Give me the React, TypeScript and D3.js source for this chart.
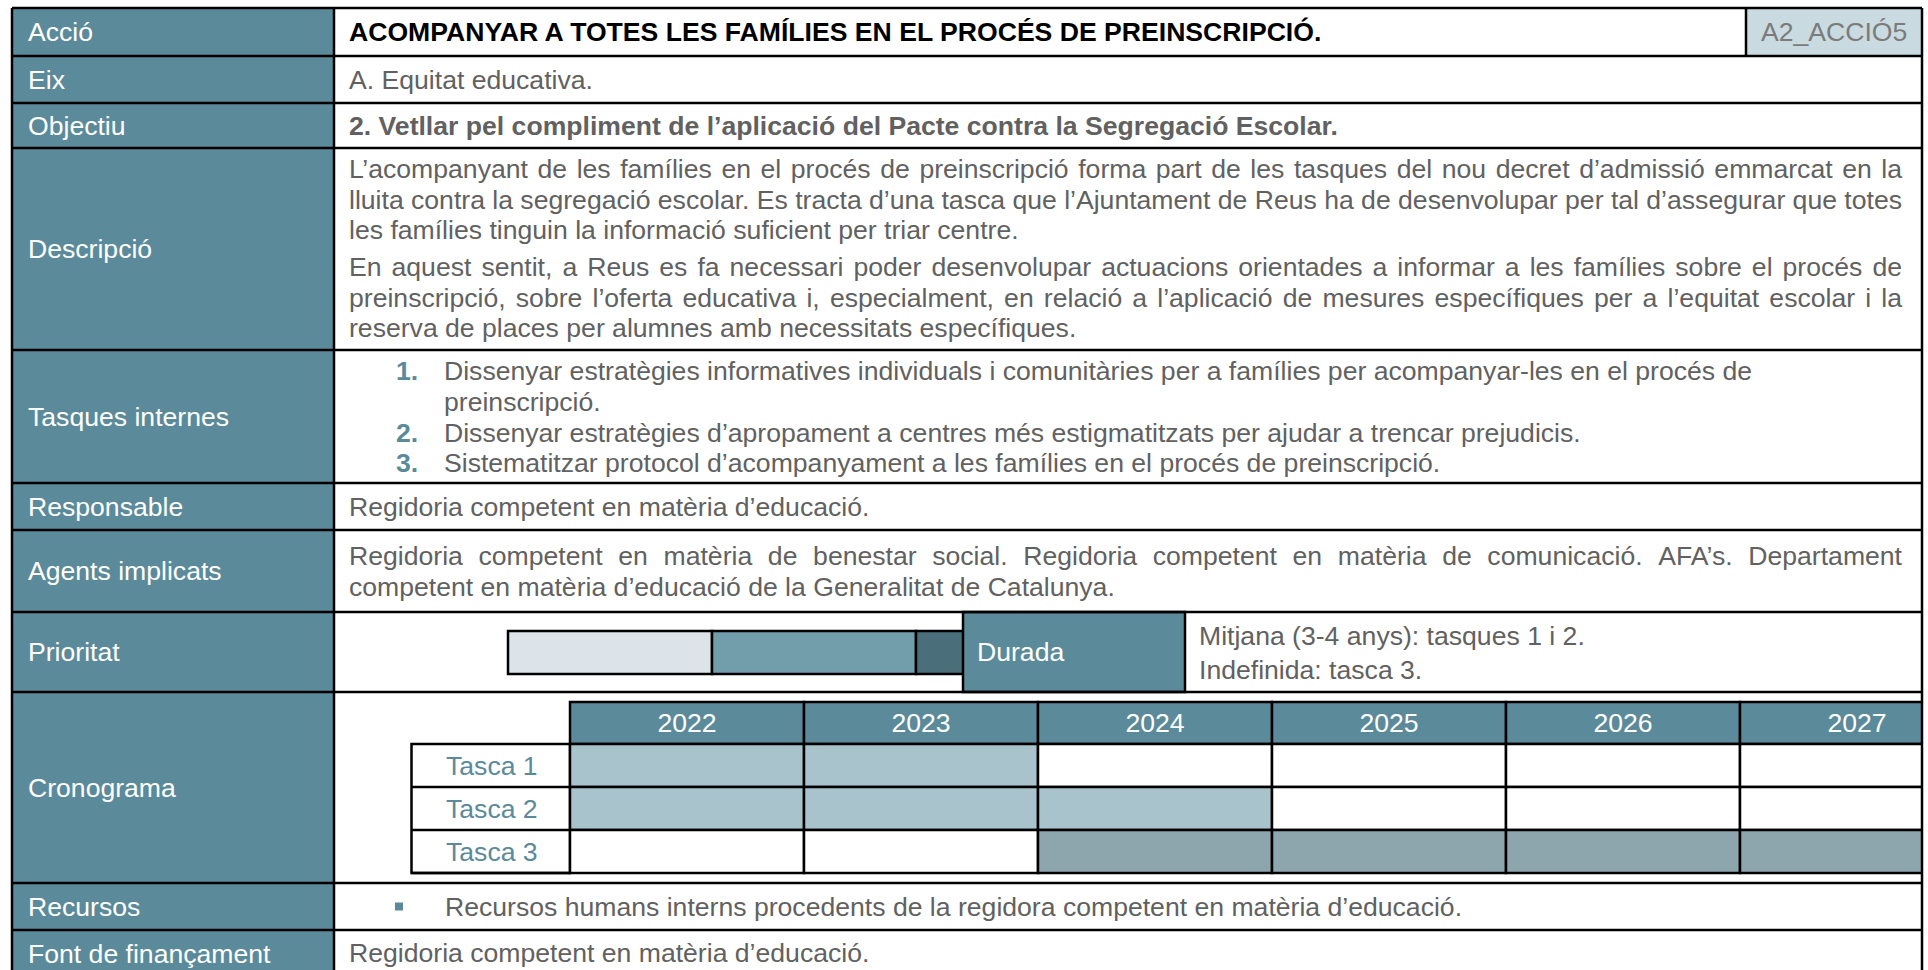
import React, { useEffect } from "react";
import * as d3 from "d3";

// ---- data ----
const rowLabels = [
  "Acció",
  "Eix",
  "Objectiu",
  "Descripció",
  "Tasques internes",
  "Responsable",
  "Agents implicats",
  "Prioritat",
  "Cronograma",
  "Recursos",
  "Font de finançament",
];

const actionTitle = "ACOMPANYAR A TOTES LES FAMÍLIES EN EL PROCÉS DE PREINSCRIPCIÓ.";
const actionCode = "A2_ACCIÓ5";
const axisText = "A. Equitat educativa.";
const objectiveText = "2. Vetllar pel compliment de l’aplicació del Pacte contra la Segregació Escolar.";

const descLines = [
  "L’acompanyant de les famílies en el procés de preinscripció forma part de les tasques del nou decret d’admissió emmarcat en la",
  "lluita contra la segregació escolar. Es tracta d’una tasca que l’Ajuntament de Reus ha de desenvolupar per tal d’assegurar que totes",
  "les famílies tinguin la informació suficient per triar centre.",
  "En aquest sentit, a Reus es fa necessari poder desenvolupar actuacions orientades a informar a les famílies sobre el procés de",
  "preinscripció, sobre l’oferta educativa i, especialment, en relació a l’aplicació de mesures específiques per a l’equitat escolar i la",
  "reserva de places per alumnes amb necessitats específiques.",
];
const descJustify = [true, true, false, true, true, false];

const taskNums = ["1.", "", "2.", "3."];
const taskLines = [
  "Dissenyar estratègies informatives individuals i comunitàries per a famílies per acompanyar-les en el procés de",
  "preinscripció.",
  "Dissenyar estratègies d’apropament a centres més estigmatitzats per ajudar a trencar prejudicis.",
  "Sistematitzar protocol d’acompanyament a les famílies en el procés de preinscripció.",
];

const responsableText = "Regidoria competent en matèria d’educació.";
const agentsLines = [
  "Regidoria competent en matèria de benestar social. Regidoria competent en matèria de comunicació. AFA’s. Departament",
  "competent en matèria d’educació de la Generalitat de Catalunya.",
];
const agentsJustify = [true, false];

const priorityLevels = ["Baixa", "Mitjana", "Alta"];
const durationLabel = "Durada";
const durationLines = ["Mitjana (3-4 anys): tasques 1 i 2.", "Indefinida: tasca 3."];

const years = ["2022", "2023", "2024", "2025", "2026", "2027"];
const tasks = ["Tasca 1", "Tasca 2", "Tasca 3"];
const taskStart = ["2022", "2022", "2024"];
const taskEnd = ["2023", "2024", "2027"];

const recursosText = "Recursos humans interns procedents de la regidora competent en matèria d’educació.";
const fontText = "Regidoria competent en matèria d’educació.";

// ---- layout ----
const W = 1928;
const H = 970;
const LEFT = 12;
const MID = 334;
const RIGHT = 1922;
const TEXT_X = 349;
const TEXT_R = 1902;
const rowEdges = [8, 56, 103, 148, 350, 483, 530, 612, 692, 883, 930, 978];
const FS = 26.6;
const LINE_H = 30.7;

const TEAL = "#5b8a9a";
const GREY = "#616161";
const FONT = "'Liberation Sans', Arial, sans-serif";

let ctx: CanvasRenderingContext2D | null = null;
function measure(s: string, bold = false) {
  if (!ctx) ctx = document.createElement("canvas").getContext("2d");
  ctx!.font = `${bold ? "bold " : ""}${FS}px "Liberation Sans"`;
  return ctx!.measureText(s).width;
}

function Line({ text, x, y, x1, justify, fill = GREY, bold = false }: any) {
  if (!justify) {
    return (
      <text x={x} y={y} dy="0.35em" fill={fill} fontWeight={bold ? "bold" : "normal"}>
        {text}
      </text>
    );
  }
  const words = text.split(" ");
  const widths = words.map((w: string) => measure(w, bold));
  const total = d3.sum(widths);
  const gap = (x1 - x - total) / (words.length - 1);
  let cx = x;
  const xs = widths.map((w: number) => {
    const p = cx;
    cx += w + gap;
    return p;
  });
  return (
    <text y={y} dy="0.35em" fill={fill} fontWeight={bold ? "bold" : "normal"}>
      {words.map((w: string, i: number) => (
        <tspan key={i} x={xs[i]}>
          {w}
        </tspan>
      ))}
    </text>
  );
}

export default function App() {
  useEffect(() => {
    document.body.style.margin = "0";
    document.body.style.overflow = "hidden";
  }, []);

  const mid = (i: number) => (rowEdges[i] + rowEdges[i + 1]) / 2;

  // priority bar
  const px = d3.scaleBand<string>().domain(priorityLevels).range([508, 508 + 3 * 204]).padding(0);
  const prioColor = d3.scaleOrdinal<string, string>().domain(priorityLevels).range(["#dce3e9", "#729dab", "#4a6f7a"]);
  const durX0 = 963;
  const durX1 = 1185;

  // gantt
  const gx = d3.scaleBand<string>().domain(years).range([570, 570 + 6 * 234]);
  const gy = d3.scaleBand<string>().domain(tasks).range([744, 873]);
  const yearIdx = (y: string) => years.indexOf(y);

  const sw = 2.5;

  return (
    <svg
      width={W}
      height={H}
      style={{ position: "absolute", left: 0, top: 0, fontFamily: FONT, fontSize: FS }}
    >
      <defs>
        <clipPath id="tbl">
          <rect x={LEFT} y={0} width={RIGHT - LEFT} height={H} />
        </clipPath>
      </defs>
      <rect width={W} height={H} fill="#fff" />
      {/* label column */}
      <rect x={LEFT} y={rowEdges[0]} width={MID - LEFT} height={H - rowEdges[0]} fill={TEAL} />
      {rowLabels.map((l, i) => (
        <text key={l} x={28} y={mid(i)} dy="0.35em" fill="#fff">
          {l}
        </text>
      ))}

      {/* Acció */}
      <Line text={actionTitle} x={TEXT_X} y={mid(0)} fill="#000" bold />
      <rect x={1746} y={rowEdges[0]} width={RIGHT - 1746} height={rowEdges[1] - rowEdges[0]} fill="#c9dbe0" />
      <line x1={1746} x2={1746} y1={rowEdges[0]} y2={rowEdges[1]} stroke="#000" strokeWidth={sw} />
      <text x={1761} y={mid(0)} dy="0.35em" fill="#7b7b7b">
        {actionCode}
      </text>

      <Line text={axisText} x={TEXT_X} y={mid(1)} />
      <Line text={objectiveText} x={TEXT_X} y={mid(2)} bold />

      {descLines.map((t, i) => (
        <Line
          key={i}
          text={t}
          x={TEXT_X}
          x1={TEXT_R}
          y={168.5 + i * LINE_H + (i >= 3 ? 6 : 0)}
          justify={descJustify[i]}
        />
      ))}

      {taskLines.map((t, i) => (
        <g key={i}>
          {taskNums[i] && (
            <text x={396} y={371 + i * LINE_H} dy="0.35em" fill={TEAL} fontWeight="bold">
              {taskNums[i]}
            </text>
          )}
          <Line text={t} x={444} y={371 + i * LINE_H} />
        </g>
      ))}

      <Line text={responsableText} x={TEXT_X} y={mid(5)} />
      {agentsLines.map((t, i) => (
        <Line key={i} text={t} x={TEXT_X} x1={TEXT_R} y={556 + i * LINE_H} justify={agentsJustify[i]} />
      ))}

      {/* Prioritat */}
      <g>
        {priorityLevels.map((p) => (
          <rect
            key={p}
            x={px(p)}
            y={631}
            width={px.bandwidth()}
            height={43}
            fill={prioColor(p)}
            stroke="#000"
            strokeWidth={sw}
          />
        ))}
        <rect x={durX0} y={rowEdges[7]} width={durX1 - durX0} height={rowEdges[8] - rowEdges[7]} fill={TEAL} stroke="#000" strokeWidth={sw} />
        <text x={977} y={mid(7)} dy="0.35em" fill="#fff">
          {durationLabel}
        </text>
        {durationLines.map((t, i) => (
          <Line key={i} text={t} x={1199} y={636 + i * 34} />
        ))}
      </g>

      {/* Cronograma */}
      <g clipPath="url(#tbl)">
        <rect x={411.5} y={gy.range()[0]} width={570 - 411.5} height={gy.range()[1] - gy.range()[0]} fill="#fff" stroke="#000" strokeWidth={sw} />
        {tasks.map((t) => (
          <g key={t}>
            <line x1={411.5} x2={570} y1={gy(t)! + gy.bandwidth()} y2={gy(t)! + gy.bandwidth()} stroke="#000" strokeWidth={sw} />
            <text x={446} y={gy(t)! + gy.bandwidth() / 2} dy="0.35em" fill={TEAL}>
              {t}
            </text>
          </g>
        ))}
        {years.map((y) => (
          <g key={y}>
            <rect x={gx(y)} y={702} width={gx.bandwidth()} height={42} fill={TEAL} stroke="#000" strokeWidth={sw} />
            <text x={gx(y)! + gx.bandwidth() / 2} y={723} dy="0.35em" fill="#fff" textAnchor="middle">
              {y}
            </text>
            {tasks.map((t, ti) => {
              const on = yearIdx(y) >= yearIdx(taskStart[ti]) && yearIdx(y) <= yearIdx(taskEnd[ti]);
              const fill = on ? (ti === 2 ? "#8da5ad" : "#a9c3cc") : "#fff";
              return (
                <rect
                  key={t}
                  x={gx(y)}
                  y={gy(t)}
                  width={gx.bandwidth()}
                  height={gy.bandwidth()}
                  fill={fill}
                  stroke="#000"
                  strokeWidth={sw}
                />
              );
            })}
          </g>
        ))}
      </g>

      {/* Recursos */}
      <rect x={395} y={mid(9) - 4} width={8} height={8} fill={TEAL} />
      <Line text={recursosText} x={445} y={mid(9)} />
      <Line text={fontText} x={TEXT_X} y={953} />

      {/* grid */}
      {rowEdges.slice(0, -1).map((y, i) => (
        <line key={i} x1={LEFT} x2={RIGHT} y1={y} y2={y} stroke="#000" strokeWidth={sw} />
      ))}
      {[LEFT, MID, RIGHT].map((x) => (
        <line key={x} x1={x} x2={x} y1={rowEdges[0]} y2={H} stroke="#000" strokeWidth={sw} />
      ))}
    </svg>
  );
}
